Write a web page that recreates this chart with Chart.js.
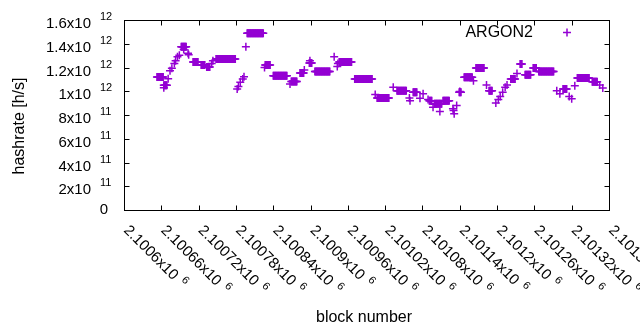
<!DOCTYPE html>
<html>
<head>
<meta charset="utf-8">
<script src="https://cdn.jsdelivr.net/npm/chart.js@4"></script>
<style>
  html, body { margin: 0; padding: 0; background: #fff; }
  #wrap { width: 640px; height: 330px; }
</style>
</head>
<body>
<div id="wrap"><canvas id="hashChart"></canvas></div>
<script>
// plateaus: consecutive blocks that share the same hashrate
const runStart = [2100653, 2100664, 2100692, 2100711, 2100724, 2100733, 2100748, 2100798, 2100827, 2100840,
                  2100869, 2100883, 2100898, 2100907, 2100946, 2100971, 2101007, 2101039, 2101065, 2101091,
                  2101099, 2101113, 2101139, 2101147, 2101166, 2101187, 2101222, 2101237, 2101245, 2101258,
                  2101267, 2101306, 2101329, 2101353];
const runEnd   = [2100663, 2100669, 2100700, 2100719, 2100730, 2100738, 2100779, 2100824, 2100835, 2100862,
                  2100878, 2100889, 2100902, 2100931, 2100966, 2100999, 2101026, 2101054, 2101071, 2101095,
                  2101111, 2101123, 2101142, 2101160, 2101179, 2101192, 2101229, 2101240, 2101254, 2101263,
                  2101291, 2101312, 2101348, 2101361];
const runValue = [1.12e12, 1.05e12, 1.374e12, 1.246e12, 1.221e12, 1.204e12, 1.271e12, 1.489e12, 1.221e12, 1.131e12,
                  1.083e12, 1.153e12, 1.237e12, 1.167e12, 1.246e12, 1.103e12, 0.944e12, 1.005e12, 0.991e12, 0.921e12,
                  0.894e12, 0.921e12, 0.991e12, 1.118e12, 1.195e12, 1.005e12, 1.103e12, 1.229e12, 1.139e12, 1.195e12,
                  1.167e12, 1.02e12, 1.112e12, 1.081e12];

// isolated blocks
const pointBlock = [2100664, 2100671, 2100674, 2100677, 2100681, 2100683, 2100686, 2100689, 2100696, 2100703,
                    2100704, 2100741, 2100743, 2100782, 2100784, 2100787, 2100791, 2100793, 2100796, 2100826,
                    2100867, 2100890, 2100899, 2100938, 2100943, 2100944, 2101004, 2101033, 2101059, 2101060,
                    2101076, 2101081, 2101089, 2101097, 2101108, 2101129, 2101130, 2101131, 2101135, 2101140,
                    2101162, 2101183, 2101198, 2101202, 2101205, 2101209, 2101213, 2101216, 2101232, 2101296,
                    2101301, 2101316, 2101320, 2101325, 2101365, 2101370];
const pointValue = [1.03e12, 1.106e12, 1.173e12, 1.193e12, 1.234e12, 1.256e12, 1.29e12, 1.304e12, 1.351e12, 1.321e12,
                    1.307e12, 1.234e12, 1.257e12, 1.019e12, 1.039e12, 1.075e12, 1.103e12, 1.123e12, 1.374e12, 1.2e12,
                    1.061e12, 1.179e12, 1.257e12, 1.29e12, 1.209e12, 1.234e12, 0.972e12, 1.033e12, 0.944e12, 0.921e12,
                    0.941e12, 0.978e12, 0.93e12, 0.865e12, 0.829e12, 0.852e12, 0.838e12, 0.81e12, 0.88e12, 0.997e12,
                    1.089e12, 1.053e12, 0.902e12, 0.93e12, 0.955e12, 0.991e12, 1.033e12, 1.053e12, 1.15e12, 1.005e12,
                    0.978e12, 0.955e12, 0.936e12, 1.047e12, 1.053e12, 1.028e12];

// axis ticks
const xTickValues = [2100600, 2100660, 2100720, 2100780, 2100840, 2100900, 2100960,
                     2101020, 2101080, 2101140, 2101200, 2101260, 2101320, 2101380];
const xTickMant = ["2.1006", "2.10066", "2.10072", "2.10078", "2.10084", "2.1009", "2.10096",
                   "2.10102", "2.10108", "2.10114", "2.1012", "2.10126", "2.10132", "2.10138"];
const yTickValues = [0, 2e11, 4e11, 6e11, 8e11, 1e12, 1.2e12, 1.4e12, 1.6e12];
const yTickMant = ["0", "2", "4", "6", "8", "1", "1.2", "1.4", "1.6"];
const yTickExp  = ["", "11", "11", "11", "11", "12", "12", "12", "12"];

const seriesName = "ARGON2";
const purple = "#9400d3";
const FONT = '"Liberation Sans", Arial, sans-serif';

let points = [];
runStart.forEach((s, i) => {
    for (let b = s; b <= runEnd[i]; b++) points.push({ x: b, y: runValue[i] });
});
pointBlock.forEach((b, i) => points.push({ x: b, y: pointValue[i] }));

// gnuplot-like frame, inward ticks, labels with superscripts
const gnuFrame = {
    id: "gnuFrame",
    afterDraw(chart) {
        const ctx = chart.ctx;
        const a = chart.chartArea;
        const xs = chart.scales.x, ys = chart.scales.y;
        const L = Math.round(a.left) + 0.5, R = Math.round(a.right) + 0.5;
        const T = Math.round(a.top) + 0.5, B = Math.round(a.bottom) + 0.5;
        ctx.save();
        ctx.strokeStyle = "#000";
        ctx.lineWidth = 1;
        ctx.strokeRect(L, T, R - L, B - T);

        ctx.beginPath();
        xTickValues.forEach(v => {
            const px = Math.round(xs.getPixelForValue(v)) + 0.5;
            ctx.moveTo(px, B); ctx.lineTo(px, B - 5);
            ctx.moveTo(px, T); ctx.lineTo(px, T + 5);
        });
        yTickValues.forEach(v => {
            const py = Math.round(ys.getPixelForValue(v)) + 0.5;
            ctx.moveTo(L, py); ctx.lineTo(L + 5, py);
            ctx.moveTo(R, py); ctx.lineTo(R - 5, py);
        });
        ctx.stroke();

        ctx.fillStyle = "#000";
        ctx.textBaseline = "alphabetic";
        // y labels
        yTickValues.forEach((v, i) => {
            const py = ys.getPixelForValue(v);
            ctx.font = "15px " + FONT;
            if (yTickExp[i] === "") {
                ctx.textAlign = "right";
                ctx.fillText(yTickMant[i], 108, py + 4);
            } else {
                ctx.textAlign = "right";
                ctx.fillText(yTickMant[i] + "x10", 91, py + 8);
                ctx.font = "11px " + FONT;
                ctx.textAlign = "left";
                ctx.fillText(yTickExp[i], 100, py);
            }
        });
        // x labels, rotated 45 degrees
        xTickValues.forEach((v, i) => {
            const px = xs.getPixelForValue(v);
            ctx.save();
            ctx.translate(px - 1, 231);
            ctx.rotate(Math.PI / 4);
            ctx.font = "15px " + FONT;
            ctx.textAlign = "left";
            const txt = xTickMant[i] + "x10";
            ctx.fillText(txt, 0, 0);
            const w = ctx.measureText(txt).width;
            ctx.font = "11px " + FONT;
            ctx.fillText("6", w + 6, -6);
            ctx.restore();
        });

        // axis titles
        ctx.font = "16px " + FONT;
        ctx.textAlign = "center";
        ctx.fillText("block number", 364, 322);
        ctx.save();
        ctx.translate(24, 126);
        ctx.rotate(-Math.PI / 2);
        ctx.fillText("hashrate [h/s]", 0, 0);
        ctx.restore();

        // key
        ctx.textAlign = "right";
        ctx.fillText(seriesName, 533, 37);
        ctx.strokeStyle = purple;
        ctx.lineWidth = 1.5;
        ctx.beginPath();
        ctx.moveTo(563, 32.5); ctx.lineTo(571, 32.5);
        ctx.moveTo(567, 28.5); ctx.lineTo(567, 36.5);
        ctx.stroke();
        ctx.restore();
    }
};

const chart = new Chart(document.getElementById("hashChart"), {
    type: "scatter",
    data: {
        datasets: [{
            label: seriesName,
            data: points,
            pointStyle: "cross",
            pointRadius: 4,
            pointBorderWidth: 1.5,
            borderColor: purple,
            backgroundColor: purple
        }]
    },
    options: {
        responsive: true,
        maintainAspectRatio: false,
        animation: false,
        layout: { padding: { left: 124, right: 31, top: 20, bottom: 120 } },
        scales: {
            x: { type: "linear", min: 2100600, max: 2101380, display: false },
            y: { type: "linear", min: 0, max: 1.6e12, display: false }
        },
        plugins: {
            legend: { display: false },
            tooltip: { enabled: false }
        }
    },
    plugins: [gnuFrame]
});
</script>
</body>
</html>
